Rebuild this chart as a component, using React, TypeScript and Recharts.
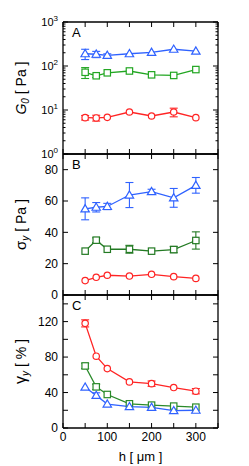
import React from 'react';
import { LineChart, Line, XAxis, YAxis, ErrorBar, Label } from 'recharts';

const FONT = "'Liberation Sans', Arial, Helvetica, sans-serif";
const RED = '#ff2424';
const BLUE = '#2f62ff';
const GREEN_A = '#22a622';
const GREEN_B = '#237a23';
const GREEN_C = '#2a8a2a';

// x values: h [um]
const hValues = [50, 75, 100, 150, 200, 250, 300];

// Panel A: G0 [Pa]
const g0Red = [6.7, 6.6, 6.8, 9.0, 7.3, 9.0, 6.7];
const g0RedErr = [0.8, 1.0, 0, 0, 0, 2.0, 0];
const g0Green = [72, 60, 70, 77, 63, 61, 83];
const g0GreenErr = [20, 5, 0, 0, 0, 0, 0];
const g0Blue = [190, 185, 175, 190, 204, 240, 218];
const g0BlueErr = [50, 30, 14, 0, 0, 0, 0];

// Panel B: sigma_y [Pa]
const sigmaRed = [9.2, 11.3, 12.6, 12.1, 13.2, 11.7, 10.6];
const sigmaRedErr = [0, 0, 0, 0, 0, 0, 0];
const sigmaGreen = [28, 35, 29.2, 29.2, 28, 29, 34.8];
const sigmaGreenErr = [0, 1.5, 0, 2.5, 0, 2, 5.5];
const sigmaBlue = [55, 56, 56.5, 63.8, 66, 62, 70];
const sigmaBlueErr = [7, 3, 2, 8, 1.5, 6, 5];

// Panel C: gamma_y [%]
const gammaRed = [118, 81, 67, 52, 50, 45.6, 41.5];
const gammaRedErr = [4, 0, 0, 0, 3, 0, 3];
const gammaGreen = [70, 46.4, 37.8, 27.3, 25.8, 24.7, 23.5];
const gammaGreenErr = [3, 3, 0, 0, 0, 0, 0];
const gammaBlue = [46, 36.7, 27, 24, 23.2, 19.5, 20];
const gammaBlueErr = [0, 3, 0, 0, 0, 0, 0];

// ticks
const xTicks = [0, 50, 100, 150, 200, 250, 300, 350];
const xLabels = [0, 100, 200, 300];
const g0Ticks = [
  1, 2, 3, 4, 5, 6, 7, 8, 9,
  10, 20, 30, 40, 50, 60, 70, 80, 90,
  100, 200, 300, 400, 500, 600, 700, 800, 900, 1000,
];
const g0Labels = [1, 10, 100, 1000];
const sigmaTicks = [0, 20, 40, 60, 80];
const sigmaLabels = [0, 20, 40, 60, 80];
const gammaTicks = [0, 20, 40, 60, 80, 100, 120, 140];
const gammaLabels = [0, 40, 80, 120];

const buildRows = (
  red: number[], redErr: number[],
  green: number[], greenErr: number[],
  blue: number[], blueErr: number[],
) => hValues.map((h, i) => ({
  h,
  red: red[i], redErr: redErr[i],
  green: green[i], greenErr: greenErr[i],
  blue: blue[i], blueErr: blueErr[i],
}));

const rowsA = buildRows(g0Red, g0RedErr, g0Green, g0GreenErr, g0Blue, g0BlueErr);
const rowsB = buildRows(sigmaRed, sigmaRedErr, sigmaGreen, sigmaGreenErr, sigmaBlue, sigmaBlueErr);
const rowsC = buildRows(gammaRed, gammaRedErr, gammaGreen, gammaGreenErr, gammaBlue, gammaBlueErr);

type Side = 'left' | 'right' | 'top' | 'bottom';

function makeTick(
  side: Side,
  isMajor: (v: number) => boolean,
  label?: (v: number, x: number, y: number) => React.ReactNode,
) {
  return (props: any) => {
    const { x, y, payload, index } = props;
    const v = payload.value as number;
    const len = isMajor(v) ? 5 : 2.5;
    let x2 = x;
    let y2 = y;
    if (side === 'left') x2 = x + len;
    else if (side === 'right') x2 = x - len;
    else if (side === 'top') y2 = y + len;
    else y2 = y - len;
    return (
      <g key={`${side}-${index}`}>
        <line x1={x} y1={y} x2={x2} y2={y2} stroke="#000" strokeWidth={1} />
        {label ? label(v, x, y) : null}
      </g>
    );
  };
}

const isPow10 = (v: number) => Math.abs(Math.log10(v) - Math.round(Math.log10(v))) < 1e-9;
const xMajor = (v: number) => v % 50 === 0;

const xLabelFn = (v: number, x: number, y: number) =>
  xLabels.includes(v) ? (
    <text x={x} y={y + 13} textAnchor="middle" fontSize={12} fontFamily={FONT} fill="#000">{v}</text>
  ) : null;

const linLabelFn = (labels: number[]) => (v: number, x: number, y: number) =>
  labels.includes(v) ? (
    <text x={x - 5} y={y + 4.3} textAnchor="end" fontSize={12} fontFamily={FONT} fill="#000">{v}</text>
  ) : null;

const logLabelFn = (v: number, x: number, y: number) =>
  g0Labels.includes(v) ? (
    <text x={x - 5} y={y + 4} textAnchor="end" fontSize={11} fontFamily={FONT} fill="#000">
      <tspan>10</tspan>
      <tspan dy={-5} fontSize={8}>{Math.round(Math.log10(v))}</tspan>
    </text>
  ) : null;

const circleDot = (color: string) => (p: any) => (
  <circle key={`c-${p.index}`} cx={p.cx} cy={p.cy} r={3.2} fill="#fff" stroke={color} strokeWidth={1.2} />
);
const squareDot = (color: string) => (p: any) => (
  <rect key={`s-${p.index}`} x={p.cx - 3.2} y={p.cy - 3.2} width={6.4} height={6.4} fill="#fff" stroke={color} strokeWidth={1.2} />
);
const triangleDot = (color: string) => (p: any) => (
  <polygon
    key={`t-${p.index}`}
    points={`${p.cx},${p.cy - 4.2} ${p.cx - 4.2},${p.cy + 3} ${p.cx + 4.2},${p.cy + 3}`}
    fill="#fff"
    stroke={color}
    strokeWidth={1.2}
  />
);

const yTitleContent = (title: React.ReactNode, letter: string) => (props: any) => {
  const vb = props.viewBox || {};
  const x = (vb.x ?? 62) + (vb.width ?? 1);
  const y = vb.y ?? 0;
  const h = vb.height ?? 0;
  const cy = y + h / 2;
  const bx = x - 37;
  return (
    <g>
      <text
        x={bx}
        y={cy}
        transform={`rotate(-90, ${bx}, ${cy})`}
        textAnchor="middle"
        fontSize={14}
        fontFamily={FONT}
        fill="#000"
      >
        {title}
      </text>
      <text x={x + 9} y={y + 15} fontSize={13} fontFamily={FONT} fill="#000">{letter}</text>
    </g>
  );
};

const xTitleContent = (props: any) => {
  const vb = props.viewBox || {};
  return (
    <text
      x={(vb.x ?? 63) + (vb.width ?? 155) / 2}
      y={(vb.y ?? 428) + 33}
      textAnchor="middle"
      fontSize={13}
      fontFamily={FONT}
      fill="#000"
    >
      h [ μm ]
    </text>
  );
};

const titleA = (
  <>
    <tspan fontStyle="italic">G</tspan>
    <tspan fontStyle="italic" fontSize={10} dy={3}>0</tspan>
    <tspan dy={-3}> [ Pa ]</tspan>
  </>
);
const titleB = (
  <>
    <tspan fontSize={15}>σ</tspan>
    <tspan fontStyle="italic" fontSize={10} dy={3}>y</tspan>
    <tspan dy={-3}> [ Pa ]</tspan>
  </>
);
const titleC = (
  <>
    <tspan fontSize={16}>γ</tspan>
    <tspan fontStyle="italic" fontSize={10} dy={3}>y</tspan>
    <tspan dy={-3}> [ % ]</tspan>
  </>
);

type PanelProps = {
  top: number;
  height: number;
  marginTop: number;
  marginBottom: number;
  rows: any[];
  green: string;
  log?: boolean;
  yDomain: [number, number];
  yTicks: number[];
  yMajor: (v: number) => boolean;
  yLabelFn: (v: number, x: number, y: number) => React.ReactNode;
  title: React.ReactNode;
  letter: string;
  showX?: boolean;
};

function Panel(p: PanelProps) {
  const axisLine = { stroke: '#000', strokeWidth: 1.3 };
  return (
    <div style={{ position: 'absolute', left: 0, top: p.top, width: 249, height: p.height }}>
      <LineChart
        width={249}
        height={p.height}
        data={p.rows}
        margin={{ top: p.marginTop - 1, right: 30, bottom: p.marginBottom - 1, left: 62 }}
        style={{ overflow: 'visible' }}
      >
        <XAxis
          dataKey="h"
          type="number"
          domain={[0, 350]}
          ticks={xTicks}
          interval={0}
          height={1}
          tickSize={0}
          tickMargin={0}
          axisLine={axisLine}
          tickLine={false}
          tick={makeTick('bottom', xMajor, p.showX ? xLabelFn : undefined)}
          allowDataOverflow
        >
          {p.showX ? <Label content={xTitleContent} /> : null}
        </XAxis>
        <XAxis
          xAxisId="top"
          orientation="top"
          dataKey="h"
          type="number"
          domain={[0, 350]}
          ticks={xTicks}
          interval={0}
          height={1}
          tickSize={0}
          tickMargin={0}
          axisLine={axisLine}
          tickLine={false}
          tick={makeTick('top', xMajor)}
          allowDataOverflow
        />
        <YAxis
          type="number"
          scale={p.log ? 'log' : 'linear'}
          domain={p.yDomain}
          ticks={p.yTicks}
          interval={0}
          width={1}
          tickSize={0}
          tickMargin={0}
          axisLine={axisLine}
          tickLine={false}
          tick={makeTick('left', p.yMajor, p.yLabelFn)}
          allowDataOverflow
        >
          <Label content={yTitleContent(p.title, p.letter)} />
        </YAxis>
        <YAxis
          yAxisId="right"
          orientation="right"
          type="number"
          scale={p.log ? 'log' : 'linear'}
          domain={p.yDomain}
          ticks={p.yTicks}
          interval={0}
          width={1}
          tickSize={0}
          tickMargin={0}
          axisLine={axisLine}
          tickLine={false}
          tick={makeTick('right', p.yMajor)}
          allowDataOverflow
        />
        <Line type="linear" dataKey="red" stroke={RED} strokeWidth={1.3} dot={circleDot(RED)} activeDot={false} isAnimationActive={false}>
          <ErrorBar dataKey="redErr" width={4} stroke={RED} strokeWidth={1.1} direction="y" />
        </Line>
        <Line type="linear" dataKey="green" stroke={p.green} strokeWidth={1.3} dot={squareDot(p.green)} activeDot={false} isAnimationActive={false}>
          <ErrorBar dataKey="greenErr" width={4} stroke={p.green} strokeWidth={1.1} direction="y" />
        </Line>
        <Line type="linear" dataKey="blue" stroke={BLUE} strokeWidth={1.3} dot={triangleDot(BLUE)} activeDot={false} isAnimationActive={false}>
          <ErrorBar dataKey="blueErr" width={4} stroke={BLUE} strokeWidth={1.1} direction="y" />
        </Line>
      </LineChart>
    </div>
  );
}

export default function App() {
  return (
    <div style={{ position: 'absolute', left: 0, top: 0, width: 249, height: 466, background: '#fff', fontFamily: FONT }}>
      <Panel
        top={0}
        height={166}
        marginTop={22}
        marginBottom={12}
        rows={rowsA}
        green={GREEN_A}
        log
        yDomain={[1, 1000]}
        yTicks={g0Ticks}
        yMajor={isPow10}
        yLabelFn={logLabelFn}
        title={titleA}
        letter="A"
      />
      <Panel
        top={144}
        height={161}
        marginTop={10}
        marginBottom={10}
        rows={rowsB}
        green={GREEN_B}
        yDomain={[0, 90]}
        yTicks={sigmaTicks}
        yMajor={() => true}
        yLabelFn={linLabelFn(sigmaLabels)}
        title={titleB}
        letter="B"
      />
      <Panel
        top={285}
        height={181}
        marginTop={10}
        marginBottom={38}
        rows={rowsC}
        green={GREEN_C}
        yDomain={[0, 150]}
        yTicks={gammaTicks}
        yMajor={() => true}
        yLabelFn={linLabelFn(gammaLabels)}
        title={titleC}
        letter="C"
        showX
      />
    </div>
  );
}
